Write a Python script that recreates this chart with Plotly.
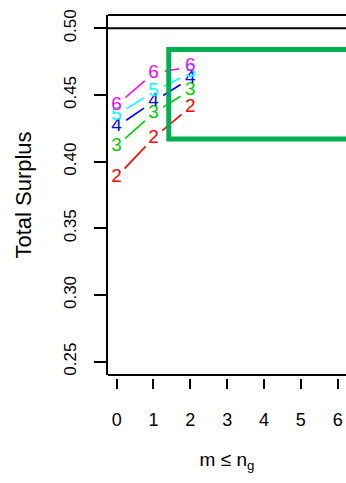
import plotly.graph_objects as go

# ---- data ----
m_values = [0, 1, 2]
series_names = ["2", "3", "4", "5", "6"]
series_colors = ["#FF0000", "#00CD00", "#0000FF", "#00FFFF", "#FF00FF"]
surplus_2 = [0.3885, 0.4177, 0.4410]
surplus_3 = [0.4117, 0.4363, 0.4537]
surplus_4 = [0.4262, 0.4450, 0.4625]
surplus_5 = [0.4350, 0.4525, 0.4667]
surplus_6 = [0.4425, 0.4663, 0.4712]
series_values = [surplus_2, surplus_3, surplus_4, surplus_5, surplus_6]
x_ticks = [0, 1, 2, 3, 4, 5, 6]
y_ticks = [0.25, 0.30, 0.35, 0.40, 0.45, 0.50]
y_ticklabels = ["0.25", "0.30", "0.35", "0.40", "0.45", "0.50"]
ref_line = 0.5
box_x0, box_y0, box_y1 = 1.415, 0.417, 0.4841

# ---- layout geometry ----
W, H = 346, 483
ML, MR, MT, MB = 108, 0, 15, 105
GAP = 3  # px gap between box bottom and x ticks
plot_w = W - ML - MR
plot_h = H - MT - MB
x_range = [-0.235, 6.226]
y_range = [0.24, 0.51]
ydom0 = GAP / plot_h
sx = plot_w / (x_range[1] - x_range[0])
sy = (plot_h - GAP) / (y_range[1] - y_range[0])
FONT = "Liberation Sans, Arial, sans-serif"

fig = go.Figure()

# type="b" style: segments shortened near the point labels
gap_px = 11.5
for name, col, vals in zip(series_names, series_colors, series_values):
    xs, ys = [], []
    for i in range(len(m_values) - 1):
        x1, y1 = m_values[i], vals[i]
        x2, y2 = m_values[i + 1], vals[i + 1]
        dxp, dyp = (x2 - x1) * sx, (y2 - y1) * sy
        L = (dxp ** 2 + dyp ** 2) ** 0.5
        if L <= 2 * gap_px:
            continue
        f = gap_px / L
        xs += [x1 + (x2 - x1) * f, x2 - (x2 - x1) * f, None]
        ys += [y1 + (y2 - y1) * f, y2 - (y2 - y1) * f, None]
    fig.add_trace(go.Scatter(x=xs, y=ys, mode="lines",
                             line=dict(color=col, width=1.6),
                             hoverinfo="skip", showlegend=False))
for name, col, vals in zip(series_names, series_colors, series_values):
    fig.add_trace(go.Scatter(x=m_values, y=vals, mode="text",
                             text=[name] * len(vals),
                             textposition="middle center",
                             textfont=dict(family=FONT, size=19, color=col),
                             showlegend=False))

shapes = [
    # box bottom and top
    dict(type="line", xref="paper", yref="paper", x0=0, x1=1.01, y0=ydom0, y1=ydom0,
         line=dict(color="black", width=2)),
    dict(type="line", xref="paper", yref="paper", x0=0, x1=1.01, y0=1, y1=1,
         line=dict(color="black", width=2)),
    # reference line
    dict(type="line", xref="paper", yref="y", x0=0, x1=1, y0=ref_line, y1=ref_line,
         line=dict(color="black", width=2)),
    # highlight rectangle
    dict(type="rect", xref="x", yref="y", x0=box_x0, x1=8, y0=box_y0, y1=box_y1,
         line=dict(color="#00B050", width=5)),
]

fig.update_layout(
    width=W, height=H,
    margin=dict(l=ML, r=MR, t=MT, b=MB, pad=0),
    paper_bgcolor="white", plot_bgcolor="white",
    font=dict(family=FONT, color="black"),
    shapes=shapes,
    hovermode=False,
    xaxis=dict(range=x_range, tickvals=x_ticks, ticks="outside", ticklen=10,
               tickwidth=2, tickcolor="black", showgrid=False, zeroline=False,
               showline=False, anchor="free", position=0,
               ticklabeloverflow="allow",
               tickfont=dict(size=18), ticklabelstandoff=15,
               title=dict(text="m ≤ n<sub>g</sub>", font=dict(size=19), standoff=24)),
    yaxis=dict(range=y_range, domain=[ydom0, 1], tickvals=y_ticks,
               ticktext=y_ticklabels, tickangle=-90, ticks="outside", ticklen=12,
               tickwidth=2, tickcolor="black", showgrid=False, zeroline=False,
               showline=True, linecolor="black", linewidth=2,
               tickfont=dict(size=17), ticklabelstandoff=11,
               title=dict(text="Total Surplus", font=dict(size=22), standoff=24)),
)

fig.write_html(
    "out.html",
    config={"displayModeBar": False},
    post_script="document.body.style.margin='0';document.body.style.overflow='hidden';",
)
